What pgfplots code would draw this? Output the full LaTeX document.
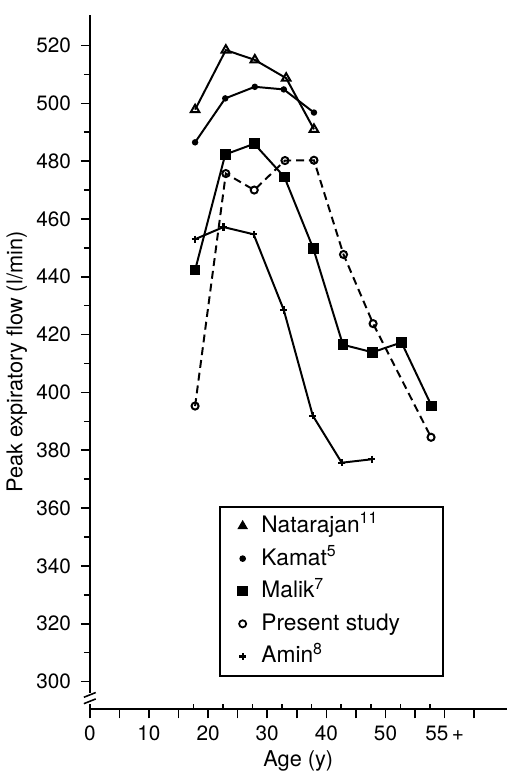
\documentclass[border=0pt]{standalone}
\usepackage{fontspec}
\setmainfont{TeX Gyre Heros}
\usepackage{pgfplots}
\pgfplotsset{compat=1.18}
\begin{document}
\begin{tikzpicture}
\begin{axis}[
  scale only axis,
  width=211pt, height=351.5pt,
  xmin=0, xmax=70.5, ymin=290.4, ymax=530.6,
  clip=false,
  axis x line*=bottom, axis y line*=left,
  axis line style={line width=0.9pt},
  /pgf/number format/assume math mode=true,
  xtick={0,5,...,65},
  xticklabels={0,,10,,20,,30,,40,,50,,{55\,+},},
  ytick={300,320,...,520},
  minor ytick={310,330,...,510},
  tick align=outside,
  major tick length=4.5pt, minor tick length=3pt,
  tick style={line width=0.8pt, black},
  tick label style={font=\fontsize{10.5}{12}\selectfont},
  xticklabel style={yshift=-0.5pt},
  yticklabel style={xshift=-1.5pt},
  label style={font=\fontsize{11}{13}\selectfont},
  xlabel={Age (y)},
  ylabel={Peak expiratory flow (l/min)},
  xlabel style={at={(axis description cs:0.5,0)}, yshift=-29pt, anchor=base},
  ylabel style={at={(axis description cs:0,0.5)}, yshift=36.9pt, anchor=center},
  legend style={at={(0.310,0.293)}, anchor=north west, draw=black, line width=0.9pt,
    inner xsep=4pt, inner ysep=3.5pt, font=\fontsize{11.5}{13}\selectfont, row sep=4pt, column sep=0pt,
    nodes={text height=8.5pt, text depth=2pt, inner ysep=1pt}},
  legend cell align=left,
  legend image code/.code={\path[draw=none, fill=none] (0pt,0pt) rectangle (15pt,0.1pt); \draw[#1] plot coordinates {(7.5pt,0pt)};},
]
% Natarajan
\addplot[black, line width=1pt, mark=triangle, mark size=2.5pt, mark options={solid, fill=white}, forget plot]
  coordinates {(17.8,497.8) (23.0,518.4) (27.9,515) (33.2,508.7) (37.9,491)};
% Kamat
\addplot[black, line width=1pt, mark=*, mark size=1.1pt, forget plot]
  coordinates {(17.8,486.5) (22.9,501.7) (27.9,505.7) (32.8,504.8) (37.9,496.8)};
% Malik
\addplot[black, line width=1pt, mark=square*, mark size=2.2pt, forget plot]
  coordinates {(17.8,442.3) (22.9,482.3) (27.8,486) (32.9,474.5) (37.8,449.7) (42.8,416.5) (47.8,413.9) (52.7,417.3) (57.8,395.3)};
% Present study
\addplot[black, line width=1pt, dash pattern=on 4pt off 2.5pt, mark=o, mark size=1.8pt, mark options={solid, fill=white}, forget plot]
  coordinates {(17.8,395.3) (23.0,475.7) (27.8,470) (33.0,480.2) (37.9,480.3) (42.9,447.7) (47.9,423.8) (57.7,384.5)};
% Amin
\addplot[black, line width=1pt, mark=+, mark size=1.8pt, mark options={line width=1.1pt}, forget plot]
  coordinates {(17.8,453) (22.6,457.2) (27.7,454.7) (32.8,428.5) (37.7,392) (42.6,375.7) (47.7,376.9)};

\addlegendimage{only marks, mark=triangle*, mark size=2.2pt}
\addlegendentry{\makebox[86pt][l]{Natarajan\textsuperscript{11}}}
\addlegendimage{only marks, mark=*, mark size=1.2pt}
\addlegendentry{Kamat\textsuperscript{5}}
\addlegendimage{only marks, mark=square*, mark size=2.2pt}
\addlegendentry{Malik\textsuperscript{7}}
\addlegendimage{only marks, mark=o, mark size=1.8pt, line width=0.9pt}
\addlegendentry{Present study}
\addlegendimage{only marks, mark=+, mark size=1.8pt, line width=1.1pt}
\addlegendentry{Amin\textsuperscript{8}}

% inward ticks at the age-group midpoints
\pgfplotsinvokeforeach{17.5,22.5,27.5,32.5,37.5,42.5,47.5,52.5,57.5}{
  \draw[line width=0.8pt] (axis cs:#1,290.4) -- ++(0pt,2.5pt);
}
% axis break
\draw[white, line width=3pt] (axis cs:0,292.3) -- (axis cs:0,296.2);
\draw[black, line width=0.8pt] (axis cs:0,293.2) ++(-3pt,-1.2pt) -- ++(6pt,2.4pt);
\draw[black, line width=0.8pt] (axis cs:0,295.4) ++(-3pt,-1.2pt) -- ++(6pt,2.4pt);
\path (rel axis cs:0,0) ++(-45.35pt,-32pt);
\path (rel axis cs:1,1) ++(0.5pt,7.5pt);
\end{axis}
\end{tikzpicture}
\end{document}
